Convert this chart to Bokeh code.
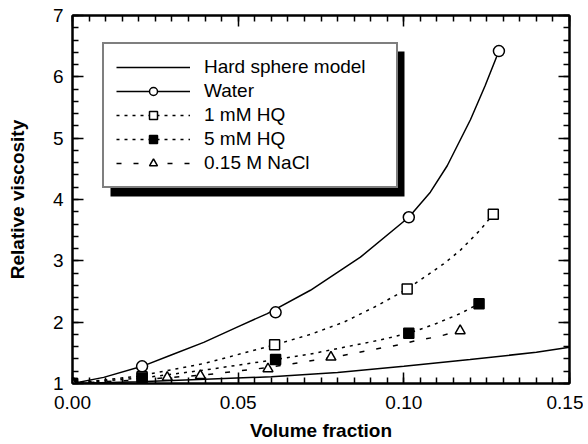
from bokeh.plotting import figure
from bokeh.models import (Range1d, LinearAxis, FixedTicker, Legend, LegendItem,
                          BoxAnnotation, PrintfTickFormatter, CustomJSTickFormatter)
from bokeh.embed import file_html
from bokeh.resources import INLINE

# ---- data ----
x_ticks = [0.0, 0.05, 0.10, 0.15]
y_ticks = [1, 2, 3, 4, 5, 6, 7]

hs_x = [0.0, 0.02, 0.04, 0.06, 0.08, 0.10, 0.12, 0.14, 0.15]
hs_y = [1.0, 1.03, 1.07, 1.11, 1.18, 1.28, 1.39, 1.51, 1.59]

water_x = [0.0, 0.021, 0.0613, 0.1015, 0.1287]
water_y = [1.0, 1.28, 2.16, 3.71, 6.42]
water_fit_x = [0.0, 0.0094, 0.021, 0.0296, 0.0396, 0.0497, 0.0588, 0.0718, 0.0869,
               0.1015, 0.108, 0.1131, 0.1201, 0.1245, 0.1287]
water_fit_y = [1.0, 1.10, 1.28, 1.46, 1.67, 1.92, 2.14, 2.52, 3.06,
               3.71, 4.12, 4.55, 5.30, 5.85, 6.42]

hq1_x = [0.0, 0.021, 0.061, 0.101, 0.127]
hq1_y = [1.0, 1.11, 1.63, 2.54, 3.76]
hq1_fit_x = [0.0, 0.02, 0.04, 0.061, 0.0718, 0.0819, 0.092, 0.101, 0.112, 0.117, 0.123, 0.127]
hq1_fit_y = [1.0, 1.12, 1.33, 1.63, 1.80, 2.00, 2.27, 2.54, 2.95, 3.17, 3.50, 3.76]

hq5_x = [0.0, 0.021, 0.0613, 0.1015, 0.1227]
hq5_y = [1.0, 1.09, 1.39, 1.82, 2.30]
hq5_fit_x = [0.0, 0.021, 0.04, 0.0613, 0.0718, 0.0819, 0.092, 0.1015, 0.109, 0.117, 0.1227]
hq5_fit_y = [1.0, 1.09, 1.22, 1.39, 1.48, 1.59, 1.70, 1.82, 1.96, 2.14, 2.30]

nacl_x = [0.0, 0.0286, 0.0386, 0.059, 0.078, 0.117]
nacl_y = [1.0, 1.10, 1.13, 1.24, 1.43, 1.86]
nacl_fit_x = [0.0, 0.02, 0.04, 0.059, 0.078, 0.0894, 0.0995, 0.1045, 0.11, 0.117]
nacl_fit_y = [1.0, 1.06, 1.14, 1.26, 1.42, 1.54, 1.64, 1.71, 1.76, 1.86]

labels = ["Hard sphere model", "Water", "1 mM HQ", "5 mM HQ", "0.15 M NaCl"]

FONT = "Liberation Sans"

p = figure(frame_width=497, frame_height=368,
           x_range=Range1d(0, 0.15), y_range=Range1d(1, 7),
           output_backend="svg", toolbar_location=None,
           min_border_left=72, min_border_top=15, min_border_right=14,
           min_border_bottom=2, background_fill_color="white",
           border_fill_color="white")
p.xgrid.visible = False
p.ygrid.visible = False
p.outline_line_color = "black"
p.outline_line_width = 2

xt = FixedTicker(ticks=x_ticks, minor_ticks=[i * 0.005 for i in range(31)])
yt = FixedTicker(ticks=y_ticks, minor_ticks=[1 + i * 0.2 for i in range(31)])


def style(ax):
    ax.axis_line_color = "black"
    ax.axis_line_width = 2
    ax.major_tick_in = 11
    ax.major_tick_out = 0
    ax.minor_tick_in = 6
    ax.minor_tick_out = 0
    ax.major_tick_line_color = "black"
    ax.minor_tick_line_color = "black"
    ax.major_tick_line_width = 1.5
    ax.minor_tick_line_width = 1.5
    ax.major_label_text_font = FONT
    ax.major_label_text_color = "black"
    ax.major_label_text_font_size = "19px"


xa = p.xaxis[0]
ya = p.yaxis[0]
xa.ticker = xt
ya.ticker = yt
xa.formatter = PrintfTickFormatter(format="%.2f")
ya.formatter = PrintfTickFormatter(format="%d")
style(xa)
style(ya)
xa.major_label_standoff = 12
ya.major_label_standoff = 9
xa.axis_label = "Volume fraction"
ya.axis_label = "Relative viscosity"
for ax in (xa, ya):
    ax.axis_label_text_font = FONT
    ax.axis_label_text_font_style = "bold"
    ax.axis_label_text_font_size = "19px"
    ax.axis_label_text_color = "black"
xa.axis_label_standoff = 8
ya.axis_label_standoff = 22

blank = CustomJSTickFormatter(code="return ''")
top = LinearAxis(ticker=xt, formatter=blank)
right = LinearAxis(ticker=yt, formatter=blank)
style(top)
style(right)
for ax in (top, right):
    ax.major_label_standoff = 0
p.add_layout(top, "above")
p.add_layout(right, "right")

# ---- curves ----
r_hs = p.line(hs_x, hs_y, line_color="black", line_width=1.5)
l_w = p.line(water_fit_x, water_fit_y, line_color="black", line_width=1.5)
l_1 = p.line(hq1_fit_x, hq1_fit_y, line_color="black", line_width=1.5, line_dash="3 5")
l_5 = p.line(hq5_fit_x, hq5_fit_y, line_color="black", line_width=1.5, line_dash="3 5")
l_n = p.line(nacl_fit_x, nacl_fit_y, line_color="black", line_width=1.5, line_dash="5 12")

# ---- markers ----
m_w = p.scatter(water_x, water_y, marker="circle", size=11, fill_color="white",
                line_color="black", line_width=1.5)
m_1 = p.scatter(hq1_x, hq1_y, marker="square", size=10, fill_color="white",
                line_color="black", line_width=1.5)
m_5 = p.scatter(hq5_x, hq5_y, marker="square", size=10, fill_color="black",
                line_color="black", line_width=1.5)
m_n = p.scatter(nacl_x, nacl_y, marker="triangle", size=10, fill_color="white",
                line_color="black", line_width=1.5)

# ---- legend with drop shadow ----
shadow = BoxAnnotation(left=0.01147, right=0.1002, top=6.413, bottom=4.049,
                       fill_color="black", fill_alpha=1.0, line_color=None)
p.add_layout(shadow)

legend = Legend(items=[
    LegendItem(label=labels[0], renderers=[r_hs]),
    LegendItem(label=labels[1], renderers=[l_w, m_w]),
    LegendItem(label=labels[2], renderers=[l_1, m_1]),
    LegendItem(label=labels[3], renderers=[l_5, m_5]),
    LegendItem(label=labels[4], renderers=[l_n, m_n]),
], location=(30, 195))
legend.label_text_font = FONT
legend.label_text_font_size = "19px"
legend.label_text_color = "black"
legend.glyph_width = 74
legend.glyph_height = 20
legend.label_height = 20
legend.label_standoff = 14
legend.label_width = 180
legend.spacing = 2
legend.padding = 12
legend.margin = 0
legend.border_line_color = "black"
legend.border_line_width = 2
legend.background_fill_color = "white"
legend.background_fill_alpha = 1.0
p.add_layout(legend)

open("out.html", "w").write(file_html(p, INLINE))
